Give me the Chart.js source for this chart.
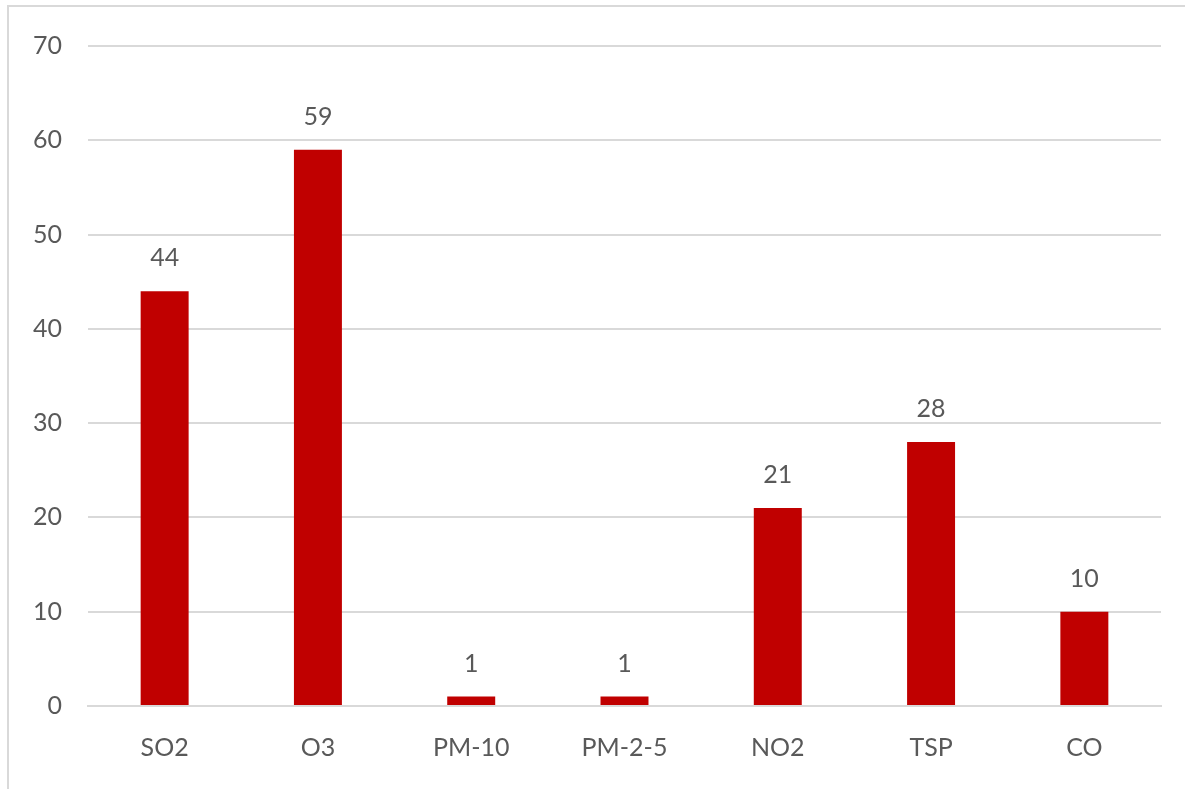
<!DOCTYPE html>
<html>
<head>
<meta charset="utf-8">
<script src="https://cdn.jsdelivr.net/npm/chart.js@4"></script>
<style>
    html, body { margin: 0; padding: 0; background: #fff; }
    #wrap { position: relative; width: 1185px; height: 789px; }
    #frame {
        position: absolute; left: 7px; top: 5px; right: 0; bottom: 0;
        border-top: 2px solid #d9d9d9; border-left: 2px solid #d9d9d9;
        pointer-events: none;
    }
</style>
</head>
<body>
<div id="wrap">
    <canvas id="chart" width="1185" height="789"></canvas>
    <div id="frame"></div>
</div>
<script>
const categories = ["SO2", "O3", "PM-10", "PM-2-5", "NO2", "TSP", "CO"];
const counts = [44, 59, 1, 1, 21, 28, 10];
const yTicks = [0, 10, 20, 30, 40, 50, 60, 70];

const textColor = "#595959";
const fontFamily = "Lato, 'Open Sans', sans-serif";

// labels above bars
const valueLabels = {
    id: "valueLabels",
    afterDatasetsDraw(chart) {
        const ctx = chart.ctx;
        const meta = chart.getDatasetMeta(0);
        ctx.save();
        ctx.font = `25px ${fontFamily}`;
        ctx.fillStyle = textColor;
        ctx.textAlign = "center";
        ctx.textBaseline = "middle";
        meta.data.forEach((bar, i) => {
            ctx.fillText(String(counts[i]), bar.x, bar.y - 33);
        });
        ctx.restore();
    },
};

new Chart(document.getElementById("chart"), {
    type: "bar",
    data: {
        labels: categories,
        datasets: [
            {
                data: counts,
                backgroundColor: "#c00000",
                borderWidth: 0,
                categoryPercentage: 1,
                barPercentage: 0.313,
            },
        ],
    },
    options: {
        responsive: false,
        animation: false,
        layout: {
            padding: { top: 46, right: 24, bottom: 26, left: 0 },
        },
        plugins: {
            legend: { display: false },
            tooltip: { enabled: false },
        },
        scales: {
            x: {
                afterFit: (axis) => { axis.height = 57; },
                grid: { display: false, drawTicks: false },
                border: { display: true, color: "#d9d9d9", width: 2 },
                ticks: {
                    color: textColor,
                    padding: 27,
                    font: { size: 25, family: fontFamily },
                },
            },
            y: {
                min: 0,
                max: 70,
                afterFit: (axis) => { axis.width = 88; },
                afterBuildTicks: (axis) => {
                    axis.ticks = yTicks.map((v) => ({ value: v }));
                },
                grid: { color: "#d9d9d9", lineWidth: 2, drawTicks: false },
                border: { display: false },
                ticks: {
                    color: textColor,
                    padding: 26,
                    font: { size: 25, family: fontFamily },
                },
            },
        },
    },
    plugins: [valueLabels],
});
</script>
</body>
</html>
